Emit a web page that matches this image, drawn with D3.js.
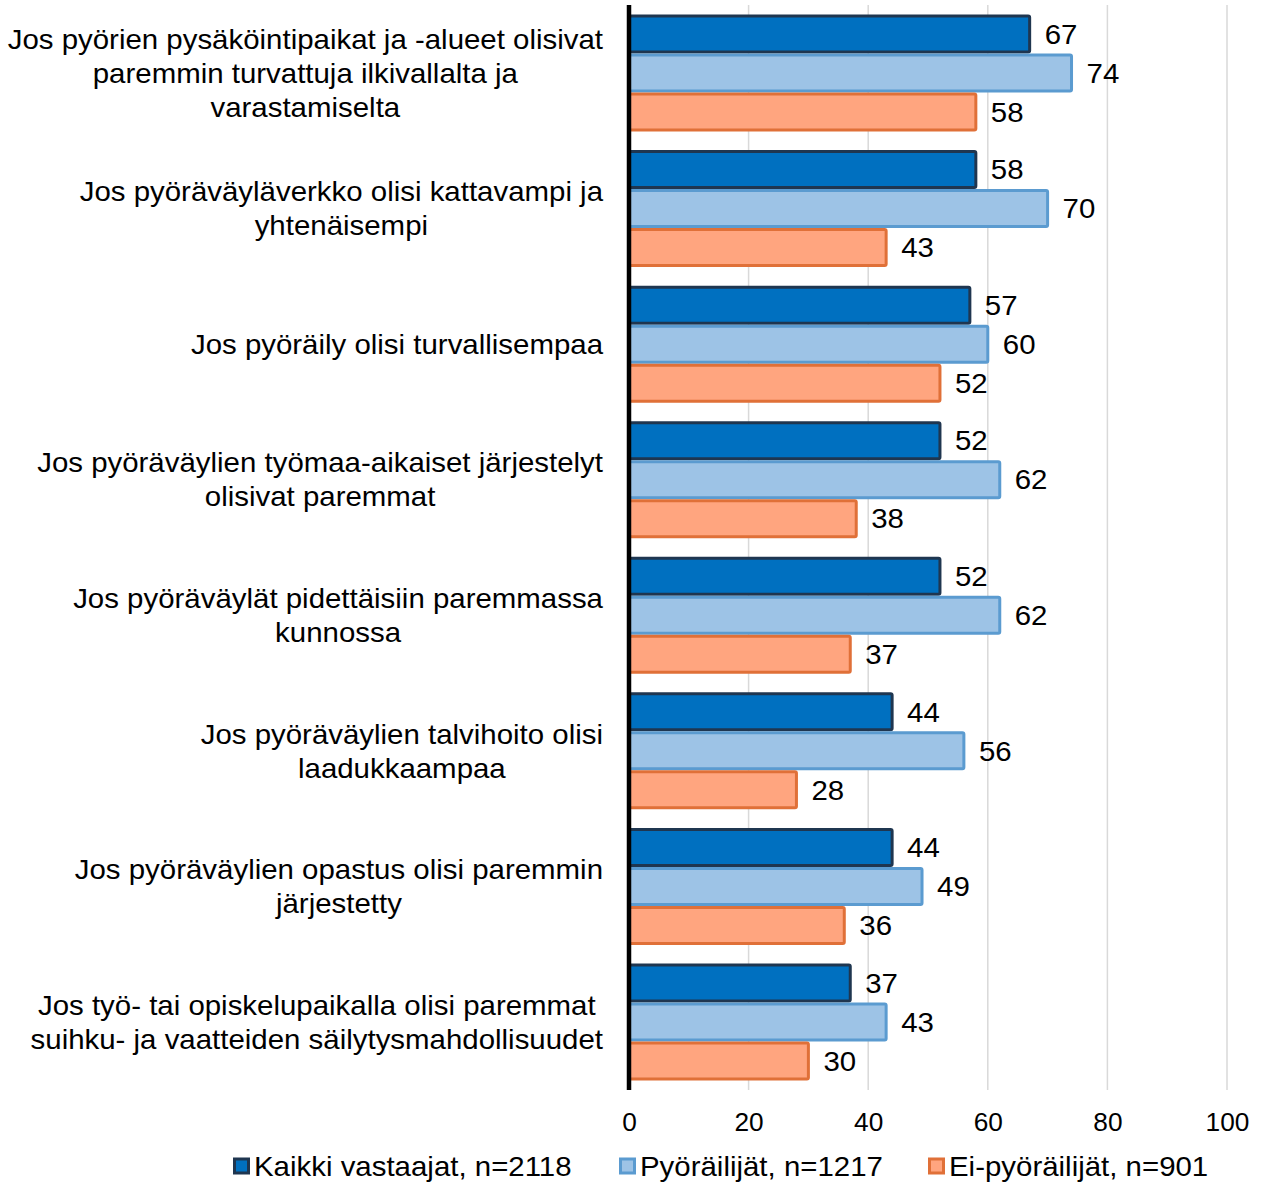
<!DOCTYPE html>
<html><head><meta charset="utf-8">
<script src="https://cdn.jsdelivr.net/npm/d3@7"></script>
<style>body{margin:0;background:#fff;} text{font-family:"Liberation Sans",Arial,sans-serif;fill:#000;}</style>
</head><body>
<svg id="c" width="1263" height="1182"></svg>
<script>
const categories = [
  ["Jos pyörien pysäköintipaikat ja -alueet olisivat","paremmin turvattuja ilkivallalta ja","varastamiselta"],
  ["Jos pyöräväyläverkko olisi kattavampi ja","yhtenäisempi"],
  ["Jos pyöräily olisi turvallisempaa"],
  ["Jos pyöräväylien työmaa-aikaiset järjestelyt","olisivat paremmat"],
  ["Jos pyöräväylät pidettäisiin paremmassa","kunnossa"],
  ["Jos pyöräväylien talvihoito olisi","laadukkaampaa"],
  ["Jos pyöräväylien opastus olisi paremmin","järjestetty"],
  ["Jos työ- tai opiskelupaikalla olisi paremmat","suihku- ja vaatteiden säilytysmahdollisuudet"]
];
const seriesNames = ["Kaikki vastaajat, n=2118","Pyöräilijät, n=1217","Ei-pyöräilijät, n=901"];
const kaikki = [67,58,57,52,52,44,44,37];
const pyorailijat = [74,70,60,62,62,56,49,43];
const eiPyorailijat = [58,43,52,38,37,28,36,30];
const ticks = [0,20,40,60,80,100];

const fills = ["#0070C0","#9DC3E6","#FFA57F"];
const strokes = ["#1F3650","#5B9BD0","#E07038"];
const series = [kaikki,pyorailijat,eiPyorailijat];
const SX = 1.09;

const svg = d3.select("#c");
const x = d3.scaleLinear().domain([0,100]).range([629,1227]);
const y = d3.scaleBand().domain(d3.range(categories.length)).range([5,1090]).paddingInner(0.137).paddingOuter(0.07);
const yInner = d3.scaleBand().domain([0,1,2]).range([0,y.bandwidth()]);

function stext(parent, px, py, str, size, anchor, sx){
  return parent.append("text").attr("transform",`translate(${px},${py}) scale(${sx||SX},1)`)
    .attr("x",0).attr("y",0).attr("dy","0.36em").attr("font-size",size)
    .attr("text-anchor",anchor||"start").text(str);
}

// gridlines
svg.append("g").selectAll("line").data(ticks.slice(1)).join("line")
  .attr("x1",d=>x(d)).attr("x2",d=>x(d)).attr("y1",5).attr("y2",1090)
  .attr("stroke","#d9d9d9").attr("stroke-width",1.5);

// bars
const g = svg.append("g");
categories.forEach((c,i)=>{
  series.forEach((s,j)=>{
    const y0 = y(i)+yInner(j);
    g.append("rect").attr("x",x(0)).attr("y",y0+1.5)
      .attr("width",x(s[i])-x(0)).attr("height",yInner.bandwidth()-3)
      .attr("fill",fills[j]).attr("stroke",strokes[j]).attr("stroke-width",3).attr("rx",1.5);
    stext(g, x(s[i])+15, y0+yInner.bandwidth()/2, s[i], 27, "start");
  });
});

// axis line
svg.append("line").attr("x1",x(0)).attr("x2",x(0)).attr("y1",5).attr("y2",1090)
  .attr("stroke","#000").attr("stroke-width",4.5);

// tick labels
const xAxis = d3.axisBottom(x).tickValues(ticks).tickSize(0).tickPadding(0);
const ax = svg.append("g").attr("transform","translate(0,1113)").call(xAxis);
ax.select(".domain").remove();
ax.selectAll("text").attr("font-size",25).attr("font-family","Liberation Sans, Arial, sans-serif")
  .attr("fill","#000").attr("x",0).attr("transform","scale(1.05,1)");

// category labels
const lineH = 34;
categories.forEach((lines,i)=>{
  const cy = y(i)+y.bandwidth()/2;
  const grp = svg.append("g");
  const ts = lines.map((l,k)=>stext(grp, 0, cy+(k-(lines.length-1)/2)*lineH, l, 27, "middle"));
  const w = d3.max(ts,t=>t.node().getComputedTextLength())*SX;
  ts.forEach((t,k)=>t.attr("transform",`translate(${603-w/2},${cy+(k-(lines.length-1)/2)*lineH}) scale(${SX},1)`));
});

// legend
const legX = [233,619,928];
seriesNames.forEach((n,j)=>{
  svg.append("rect").attr("x",legX[j]+1.5).attr("y",1159).attr("width",14).attr("height",14)
    .attr("fill",fills[j]).attr("stroke",strokes[j]).attr("stroke-width",3);
  stext(svg, legX[j]+21, 1166, n, 27, "start");
});
</script>
</body></html>
